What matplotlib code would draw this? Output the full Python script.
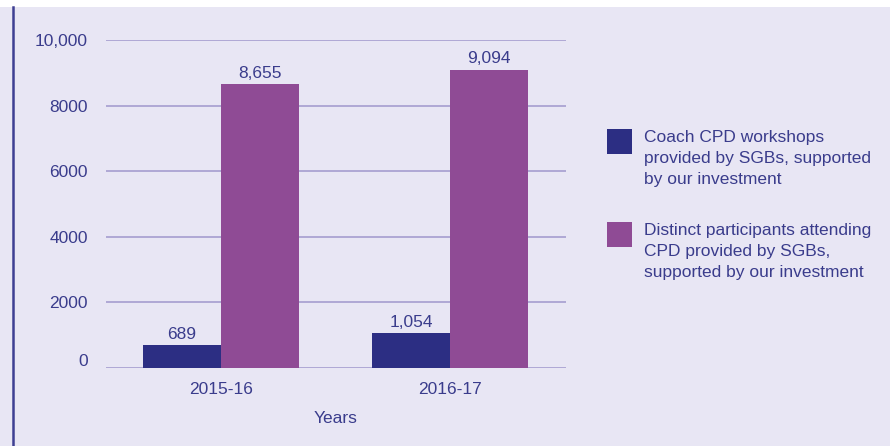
import numpy as np
import matplotlib.pyplot as plt
from matplotlib.patches import Rectangle
from matplotlib.lines import Line2D

# Data
years = ['2015-16', '2016-17']
workshops = [689, 1054]
participants = [8655, 9094]
workshop_labels = ['689', '1,054']
participant_labels = ['8,655', '9,094']
ytick_vals = [0, 2000, 4000, 6000, 8000, 10000]
ytick_text = ['0', '2000', '4000', '6000', '8000', '10,000']
series_names = ['Coach CPD workshops\nprovided by SGBs, supported\nby our investment',
                'Distinct participants attending\nCPD provided by SGBs,\nsupported by our investment']

plt.rcParams['font.family'] = ['Liberation Sans', 'DejaVu Sans']
txt_col = '#3a3c8c'
navy = '#2c2e83'
plum = '#8f4b95'
grid_col = '#a59dcf'
bg = '#e8e6f4'
fs = 12.5

fig = plt.figure(figsize=(8.9, 4.46), dpi=100, facecolor=bg)
W, H = 890, 446

# white strip along the top and a thin border on the left
fig.patches.append(Rectangle((0, 1 - 7 / H), 1, 7 / H, transform=fig.transFigure,
                             facecolor='white', edgecolor='none'))
fig.add_artist(Line2D([12.5 / W, 12.5 / W], [0, 1 - 7 / H], transform=fig.transFigure,
                      color='#3e3f92', lw=1.8))

ax = fig.add_axes([106 / W, 1 - 368 / H, 460 / W, 328 / H])
ax.set_facecolor('none')

x = np.arange(len(years))
bw = 0.34
b1 = ax.bar(x - bw / 2, workshops, bw, color=navy, zorder=3)
b2 = ax.bar(x + bw / 2, participants, bw, color=plum, zorder=3)

for bars, labels in ((b1, workshop_labels), (b2, participant_labels)):
    for b, lab in zip(bars, labels):
        ax.annotate(lab, (b.get_x() + b.get_width() / 2, b.get_height()),
                    xytext=(0, 2.5), textcoords='offset points', ha='center', va='bottom',
                    fontsize=fs, color=txt_col)

ax.set_xlim(-0.502, 1.507)
ax.set_ylim(0, 10000)
ax.set_yticks(ytick_vals)
ax.set_yticklabels([''] + ytick_text[1:])
ax.set_xticks(x)
ax.set_xticklabels(years)
ax.tick_params(axis='both', length=0, labelsize=fs, labelcolor=txt_col)
ax.tick_params(axis='y', pad=13)
ax.tick_params(axis='x', pad=10)
ax.yaxis.grid(True, color=grid_col, lw=1.2, zorder=0)
ax.set_axisbelow(True)
for s in ax.spines.values():
    s.set_visible(False)
ax.set_xlabel('Years', fontsize=fs, color=txt_col, labelpad=10)

# the zero label sits a little above its line
ax.annotate(ytick_text[0], (0, ytick_vals[0]), xycoords=('axes fraction', 'data'),
            xytext=(-13, 5), textcoords='offset points', ha='right', va='center',
            fontsize=fs, color=txt_col)

# legend drawn by hand: squares plus wrapped text
for i, (col, name) in enumerate(zip((navy, plum), series_names)):
    top = 129 + i * 93
    fig.patches.append(Rectangle((607 / W, 1 - (top + 25) / H), 25 / W, 25 / H,
                                 transform=fig.transFigure, facecolor=col, edgecolor='none'))
    fig.text(644 / W, 1 - (top + 1) / H, name, ha='left', va='top', fontsize=fs,
             color=txt_col, linespacing=1.5)

fig.savefig('out.png', dpi=100, facecolor=fig.get_facecolor())
